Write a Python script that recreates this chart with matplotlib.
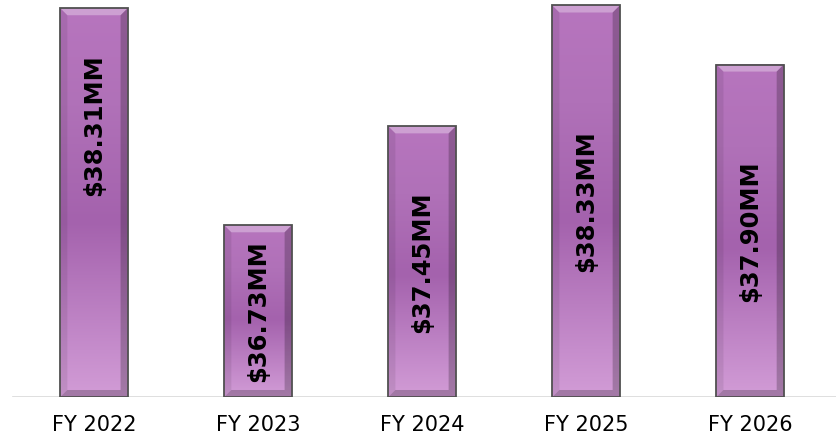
import numpy as np
import matplotlib
matplotlib.use("Agg")
import matplotlib.pyplot as plt
from matplotlib.colors import LinearSegmentedColormap
from matplotlib.patches import Polygon, Rectangle

# chart data
years = ["FY 2022", "FY 2023", "FY 2024", "FY 2025", "FY 2026"]
values = [38.31, 36.73, 37.45, 38.33, 37.90]  # $MM
labels = [r"\$%.2fMM" % v for v in values]

# where the label sits along each bar (fraction of bar height from the bottom)
label_frac = [0.70, 0.5, 0.5, 0.5, 0.5]

y_min, y_max = 35.48, 38.37
bar_w = 0.41

fig = plt.figure(figsize=(8.36, 4.38), dpi=100)
ax = fig.add_axes([8 / 836, 41 / 438, 828 / 836, 397 / 438])
ax.set_xlim(-0.524, len(years) - 1 + 0.524)
ax.set_ylim(y_min, y_max)

# pixel -> data conversion for the bevel
px_x = (len(years) - 1 + 1.048) / 828
px_y = (y_max - y_min) / 397
bev = 7

grad = LinearSegmentedColormap.from_list(
    "purp", [(0.0, "#d29cd6"), (0.12, "#c68dcc"), (0.45, "#a462ad"),
             (0.75, "#b071b8"), (1.0, "#b775be")])
col = np.linspace(0, 1, 256).reshape(-1, 1)

for i, v in enumerate(values):
    x0, x1 = i - bar_w / 2, i + bar_w / 2
    y0, y1 = y_min, v
    ax.imshow(col, cmap=grad, origin="lower", aspect="auto",
              extent=(x0, x1, y0, y1), interpolation="bilinear", zorder=2)
    bx, by = bev * px_x, bev * px_y
    # bevel faces
    ax.add_patch(Polygon([(x0, y1), (x1, y1), (x1 - bx, y1 - by), (x0 + bx, y1 - by)],
                         closed=True, facecolor="white", alpha=0.32, lw=0, zorder=3))
    ax.add_patch(Polygon([(x0, y0), (x1, y0), (x1 - bx, y0 + by), (x0 + bx, y0 + by)],
                         closed=True, facecolor="black", alpha=0.22, lw=0, zorder=3))
    ax.add_patch(Polygon([(x0, y0), (x0, y1), (x0 + bx, y1 - by), (x0 + bx, y0 + by)],
                         closed=True, facecolor="black", alpha=0.08, lw=0, zorder=3))
    ax.add_patch(Polygon([(x1, y0), (x1, y1), (x1 - bx, y1 - by), (x1 - bx, y0 + by)],
                         closed=True, facecolor="black", alpha=0.22, lw=0, zorder=3))
    ax.add_patch(Rectangle((x0, y0), bar_w, y1 - y0, facecolor="none",
                           edgecolor="#505050", lw=1.3, zorder=4))
    ly = y0 + (y1 - y0) * label_frac[i]
    ax.text(i, ly, labels[i], rotation=90, ha="center", va="center",
            fontsize=17.5, fontweight="bold", color="black", zorder=5)

ax.axhline(y_min, xmin=0.006, color="#d9d9d9", lw=1.2, zorder=1)

ax.set_xticks(range(len(years)))
ax.set_xticklabels(years, fontsize=15)
ax.tick_params(axis="x", length=0, pad=13)
ax.set_yticks([])
for s in ax.spines.values():
    s.set_visible(False)

fig.savefig("out.png", dpi=100)
